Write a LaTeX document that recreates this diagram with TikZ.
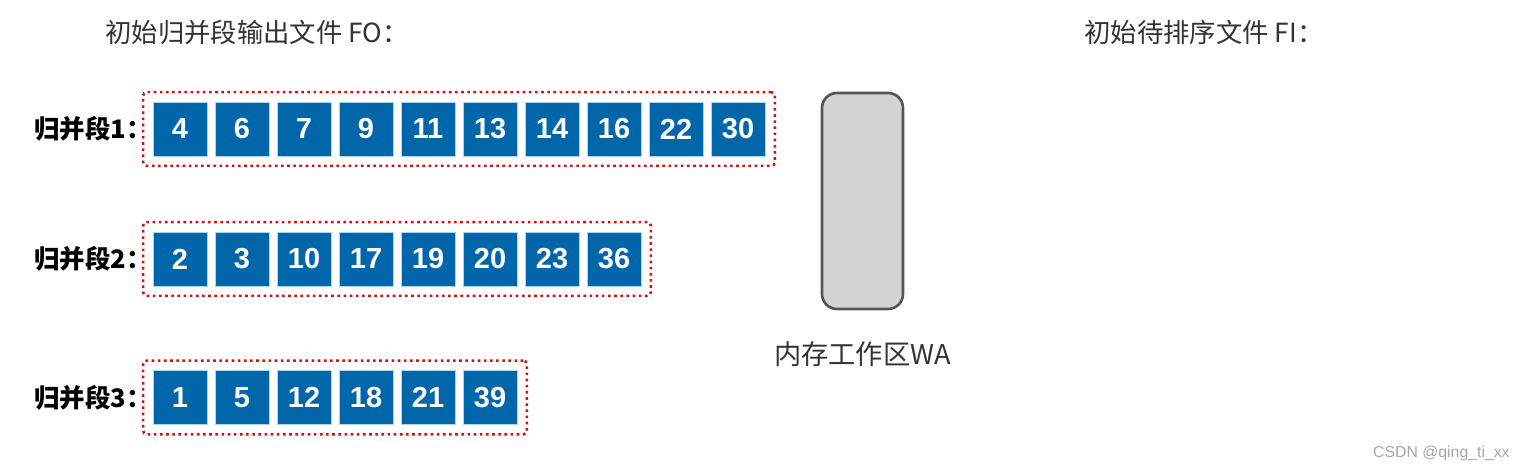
\documentclass[tikz,border=0pt]{standalone}
\usepackage{fontspec}
\setmainfont{Liberation Sans}
\newfontfamily\cjk{Noto Sans CJK SC}
\usetikzlibrary{fit}
\definecolor{runblue}{RGB}{0,102,170}
\definecolor{runedge}{RGB}{170,215,240}
\definecolor{framered}{RGB}{205,20,20}
\definecolor{wafill}{RGB}{211,211,211}
\definecolor{waedge}{RGB}{85,85,85}
\definecolor{titlegray}{RGB}{51,51,51}

\begin{document}
\begin{tikzpicture}[
	runbox/.style={fill=runblue, draw=runedge, line width=0.4pt, minimum size=1.08cm, inner sep=0pt, text=white, font=\bfseries\fontsize{16.5}{18}\selectfont},
	segframe/.style={draw=framered, dotted, line width=1.5pt, inner sep=0.19cm, rounded corners=2pt},
	seglabel/.style={anchor=west, inner sep=0pt, font=\cjk\bfseries\fontsize{14.5}{17}\selectfont},
	title/.style={anchor=west, inner sep=0pt, text=titlegray, font=\cjk\fontsize{15}{18}\selectfont}]
	\useasboundingbox (0,0) rectangle (30.52,9.44);
	\node[title] (fo) at (2.1,8.8) {初始归并段输出文件 FO：};
	\node[title] (fi) at (21.68,8.8) {初始待排序文件 FI：};
	\foreach \v [count=\i] in {4,6,7,9,11,13,14,16,22,30}
		\node[runbox] (ra\i) at ({3.6+1.24*(\i-1)},6.86) {\v};
	\foreach \v [count=\i] in {2,3,10,17,19,20,23,36}
		\node[runbox] (rb\i) at ({3.6+1.24*(\i-1)},4.26) {\v};
	\foreach \v [count=\i] in {1,5,12,18,21,39}
		\node[runbox] (rc\i) at ({3.6+1.24*(\i-1)},1.49) {\v};
	\node[segframe, fit=(ra1)(ra10)] (seg1) {};
	\node[segframe, fit=(rb1)(rb8)] (seg2) {};
	\node[segframe, fit=(rc1)(rc6)] (seg3) {};
	\node[seglabel] (lab1) at (0.68,6.86) {归并段1：};
	\node[seglabel] (lab2) at (0.68,4.26) {归并段2：};
	\node[seglabel] (lab3) at (0.68,1.49) {归并段3：};
	\node[draw=waedge, fill=wafill, line width=1.5pt, rounded corners=0.3cm, minimum width=1.62cm, minimum height=4.32cm] (wa) at (17.25,5.42) {};
	\node[text=titlegray, font=\cjk\fontsize{15.5}{18}\selectfont] (walabel) at (17.25,2.36) {内存工作区WA};
	\node[anchor=east, inner sep=0pt, text=gray!70, font=\fontsize{9}{11}\selectfont] (mark) at (30.2,0.38) {CSDN @qing\_ti\_xx};
\end{tikzpicture}
\end{document}
